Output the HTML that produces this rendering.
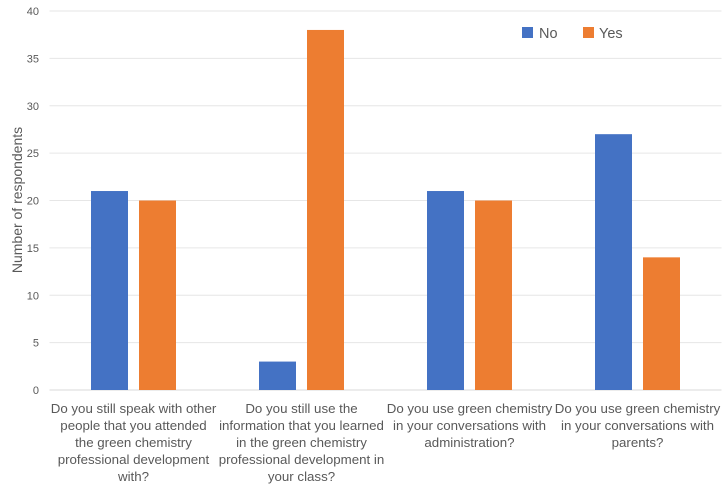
<!DOCTYPE html>
<html><head><meta charset="utf-8"><style>
body{margin:0;background:#fff;}
svg text{font-family:"Liberation Sans",sans-serif;fill:#595959;}
</style></head><body>
<svg id="chart" width="723" height="487"></svg>
<script>
const categories=[
["Do you still speak with other","people that you attended","the green chemistry","professional development","with?"],
["Do you still use the","information that you learned","in the green chemistry","professional development in","your class?"],
["Do you use green chemistry","in your conversations with","administration?"],
["Do you use green chemistry","in your conversations with","parents?"]];
const noValues=[21,3,21,27];
const yesValues=[20,38,20,14];
const yTicks=[0,5,10,15,20,25,30,35,40];
const NS="http://www.w3.org/2000/svg";
const svg=document.getElementById('chart');
const L=49.5,R=721.5,Y0=390,Y40=11,yMax=40;
const y=v=>Y0-(Y0-Y40)*v/yMax;
const bw=(R-L)/categories.length;
const xc=i=>L+bw*(i+0.5);
function mk(t,a){const e=document.createElementNS(NS,t);for(const k in a)e.setAttribute(k,a[k]);svg.appendChild(e);return e;}
yTicks.forEach(t=>{
 const g=mk('line',{x1:L,x2:R,y1:y(t),y2:y(t),stroke:t===0?'#d9d9d9':'#e6e6e6','stroke-width':1});
 
 
 const tx=mk('text',{x:39,y:y(t)+4,'text-anchor':'end','font-size':11});
 tx.textContent=t;
 
 
});
categories.forEach((lines,i)=>{
 const b1=mk('rect',{x:xc(i)-42.5,y:y(noValues[i]),width:37,height:Y0-y(noValues[i]),fill:'#4472c4'});
 
 
 const b2=mk('rect',{x:xc(i)+5.5,y:y(yesValues[i]),width:37,height:Y0-y(yesValues[i]),fill:'#ed7d31'});
 
 
 lines.forEach((ln,j)=>{
  const t=mk('text',{x:xc(i),y:413+17*j,'text-anchor':'middle','font-size':13.3});
  t.textContent=ln;
  
  
 });
});
const yt=mk('text',{x:22,y:200,'text-anchor':'middle','font-size':14,transform:'rotate(-90 22 200)'});
yt.textContent='Number of respondents';


const l1=mk('rect',{x:522,y:27,width:11,height:11,fill:'#4472c4'});


const lt1=mk('text',{x:539,y:38,'font-size':14.5});lt1.textContent='No';


const l2=mk('rect',{x:583,y:27,width:11,height:11,fill:'#ed7d31'});


const lt2=mk('text',{x:599,y:38,'font-size':14.5});lt2.textContent='Yes';


</script>
</body></html>
